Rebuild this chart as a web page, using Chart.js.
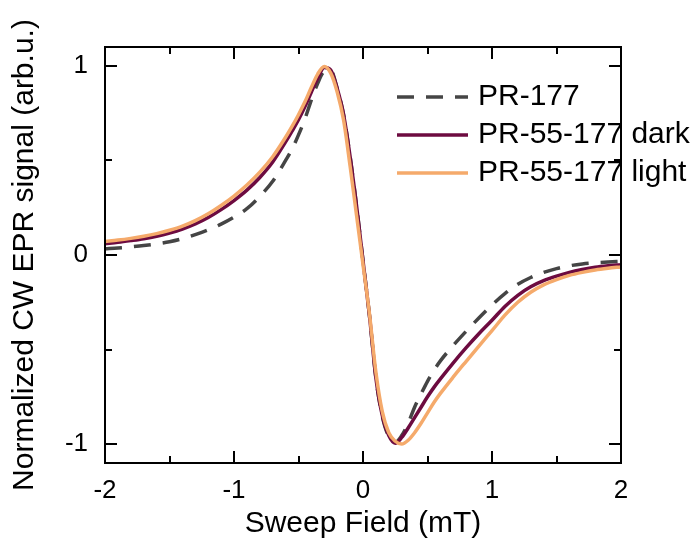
<!DOCTYPE html>
<html>
<head>
<meta charset="utf-8">
<script src="https://cdn.jsdelivr.net/npm/chart.js@4.4.1/dist/chart.umd.min.js"></script>
<style>
  html, body { margin: 0; padding: 0; background: #fff; }
  #wrap { width: 699px; height: 542px; }
</style>
</head>
<body>
<div id="wrap"><canvas id="c" width="699" height="542"></canvas></div>
<script>
// ---- data ----
const field = [
  -2.0,-1.9,-1.8,-1.7,-1.6,-1.5,-1.4,-1.3,-1.2,-1.1,
  -1.0,-0.9,-0.8,-0.7,-0.6,-0.55,-0.5,-0.45,-0.4,-0.35,
  -0.3,-0.25,-0.2,-0.15,-0.1,-0.05,0,0.05,0.1,0.15,
  0.2,0.25,0.3,0.35,0.4,0.45,0.5,0.55,0.6,0.7,
  0.8,0.9,1.0,1.1,1.2,1.3,1.4,1.5,1.6,1.7,
  1.8,1.9,2.0
];
const pr177 = [
  0.033,0.037,0.043,0.050,0.059,0.070,0.086,0.108,0.133,0.163,
  0.200,0.245,0.310,0.390,0.500,0.560,0.635,0.720,0.820,0.910,
  0.970,0.975,0.880,0.740,0.520,0.260,-0.030,-0.320,-0.650,-0.855,
  -0.960,-0.990,-0.955,-0.890,-0.805,-0.735,-0.668,-0.610,-0.560,-0.478,
  -0.403,-0.332,-0.264,-0.204,-0.155,-0.119,-0.092,-0.072,-0.057,-0.047,
  -0.041,-0.037,-0.034
];
const pr55Dark = [
  0.060,0.067,0.076,0.086,0.099,0.116,0.137,0.164,0.198,0.240,
  0.288,0.343,0.410,0.492,0.598,0.655,0.715,0.785,0.862,0.937,
  0.992,0.978,0.880,0.740,0.520,0.260,-0.030,-0.320,-0.650,-0.850,
  -0.955,-0.995,-0.965,-0.915,-0.860,-0.805,-0.750,-0.700,-0.655,-0.570,
  -0.490,-0.415,-0.345,-0.272,-0.213,-0.168,-0.136,-0.112,-0.092,-0.077,
  -0.065,-0.057,-0.051
];
const pr55Light = [
  0.072,0.079,0.088,0.099,0.113,0.131,0.153,0.182,0.218,0.262,
  0.312,0.370,0.438,0.520,0.623,0.680,0.742,0.810,0.887,0.958,
  0.997,0.962,0.862,0.712,0.470,0.210,-0.050,-0.310,-0.620,-0.830,
  -0.940,-0.985,-1.000,-0.980,-0.940,-0.890,-0.835,-0.780,-0.732,-0.645,
  -0.562,-0.480,-0.400,-0.318,-0.250,-0.197,-0.158,-0.130,-0.108,-0.092,
  -0.079,-0.070,-0.063
];
const seriesNames = ['PR-177', 'PR-55-177 dark', 'PR-55-177 light'];
const xMajorTicks = [-2, -1, 0, 1, 2];
const xMinorTicks = [-1.5, -0.5, 0.5, 1.5];
const yMajorTicks = [-1, 0, 1];
const yMinorTicks = [-0.5, 0.5];
const xTitle = 'Sweep Field (mT)';
const yTitle = 'Normalized CW EPR signal (arb.u.)';

const FONT = "'Liberation Sans', Arial, sans-serif";
const toPts = arr => field.map((x, i) => ({ x: x, y: arr[i] }));

const frameAndLegend = {
  id: 'frameAndLegend',
  afterDatasetsDraw(chart) {
    const { ctx, chartArea: a, scales: { x, y } } = chart;
    ctx.save();
    ctx.strokeStyle = '#000';
    ctx.lineWidth = 2;
    ctx.lineCap = 'butt';
    ctx.strokeRect(a.left, a.top, a.right - a.left, a.bottom - a.top);
    const MAJ = 12, MIN = 7;
    ctx.beginPath();
    const xt = (v, len) => {
      const p = Math.round(x.getPixelForValue(v));
      ctx.moveTo(p, a.bottom); ctx.lineTo(p, a.bottom - len);
      ctx.moveTo(p, a.top); ctx.lineTo(p, a.top + len);
    };
    const yt = (v, len) => {
      const p = Math.round(y.getPixelForValue(v));
      ctx.moveTo(a.left, p); ctx.lineTo(a.left + len, p);
      ctx.moveTo(a.right, p); ctx.lineTo(a.right - len, p);
    };
    xMajorTicks.forEach(v => xt(v, MAJ));
    xMinorTicks.forEach(v => xt(v, MIN));
    yMajorTicks.forEach(v => yt(v, MAJ));
    yMinorTicks.forEach(v => yt(v, MIN));
    ctx.stroke();

    // legend
    const x0 = 397, x1 = 468, tx = 478, rows = [97, 135, 173];
    ctx.font = '30px ' + FONT;
    ctx.textBaseline = 'middle';
    ctx.textAlign = 'left';
    chart.data.datasets.forEach((ds, i) => {
      ctx.beginPath();
      ctx.strokeStyle = ds.borderColor;
      ctx.lineWidth = ds.borderWidth;
      ctx.setLineDash(ds.borderDash || []);
      ctx.moveTo(x0, rows[i]); ctx.lineTo(x1, rows[i]);
      ctx.stroke();
      ctx.setLineDash([]);
      ctx.fillStyle = '#000';
      ctx.fillText(ds.label, tx, rows[i]);
    });
    ctx.restore();
  }
};

new Chart(document.getElementById('c'), {
  type: 'line',
  data: {
    datasets: [
      { label: seriesNames[0], data: toPts(pr177), borderColor: '#454545', borderWidth: 3.5,
        borderDash: [17, 12], order: 3 },
      { label: seriesNames[1], data: toPts(pr55Dark), borderColor: '#6d0b40', borderWidth: 3.5, order: 2 },
      { label: seriesNames[2], data: toPts(pr55Light), borderColor: '#f5aa6b', borderWidth: 3.5, order: 1 }
    ]
  },
  options: {
    responsive: false,
    animation: false,
    events: [],
    layout: { padding: { top: 47, right: 78, left: 0, bottom: 0 } },
    elements: { point: { radius: 0 }, line: { cubicInterpolationMode: 'monotone', fill: false } },
    plugins: { legend: { display: false }, tooltip: { enabled: false } },
    scales: {
      x: {
        type: 'linear', min: -2, max: 2,
        afterBuildTicks: s => { s.ticks = xMajorTicks.map(v => ({ value: v })); },
        afterFit: s => { s.height = 79; },
        grid: { display: false, drawTicks: false },
        border: { display: false },
        ticks: { color: '#000', padding: 12, font: { family: FONT, size: 26 }, callback: v => String(v) },
        title: { display: true, text: xTitle, color: '#000', padding: { top: 0, bottom: 0 },
                 font: { family: FONT, size: 30 } }
      },
      y: {
        type: 'linear', min: -1.1, max: 1.1,
        afterBuildTicks: s => { s.ticks = yMajorTicks.map(v => ({ value: v })); },
        afterFit: s => { s.width = 105; },
        grid: { display: false, drawTicks: false },
        border: { display: false },
        ticks: { color: '#000', padding: 17, font: { family: FONT, size: 26 }, callback: v => String(v) },
        title: { display: true, text: yTitle, color: '#000', padding: { top: 7, bottom: 0 },
                 font: { family: FONT, size: 30 } }
      }
    }
  },
  plugins: [frameAndLegend]
});
</script>
</body>
</html>
